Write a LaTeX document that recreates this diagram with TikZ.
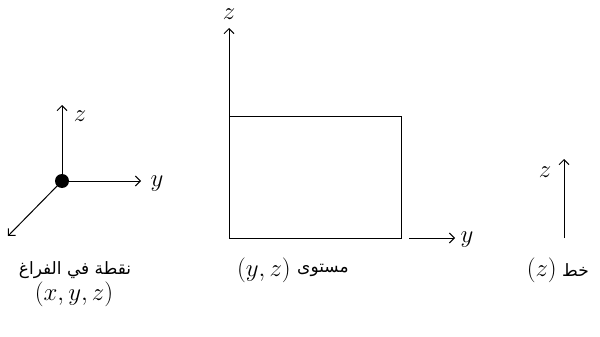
\documentclass[tikz,border=0pt]{standalone}
\usepackage{fontspec}
\usetikzlibrary{arrows.meta}
\newfontfamily\arabicfont[Script=Arabic]{DejaVu Sans}
\TeXXeTstate=1
\begin{document}
\begin{tikzpicture}[x=1pt,y=-1pt,
  ax/.style={line width=1pt,-{Straight Barb[length=5pt,width=10pt,line width=1pt]}},
  edge/.style={line width=1pt},
  lbl/.style={inner sep=0pt,font=\fontsize{23.5}{28}\selectfont},
  ar/.style={inner sep=0pt,font=\fontsize{17}{20}\selectfont\arabicfont}]
\useasboundingbox (0,0) rectangle (600,337);
% left: point in space
\coordinate (o) at (62,181);
\coordinate (oz) at (62,105);
\coordinate (oy) at (141,181);
\coordinate (ox) at (8,236);
\draw[ax] (o) -- (oz);
\draw[ax] (o) -- (oy);
\draw[ax] (o) -- (ox);
\fill (o) circle (7);
\node[lbl] (lz) at (80,116) {$z$};
\node[lbl] (ly) at (157,184) {$y$};
% middle: plane
\coordinate (p0) at (229,238);
\coordinate (pz) at (229,28);
\coordinate (p1) at (401,238);
\coordinate (p2) at (401,116);
\coordinate (p3) at (229,116);
\draw[ax] (p0) -- (pz);
\draw[edge] (p3) -- (p2) -- (p1) -- (p0);
\coordinate (py0) at (409,238);
\coordinate (py1) at (455,238);
\draw[ax] (py0) -- (py1);
\node[lbl] (mz) at (229,14) {$z$};
\node[lbl] (my) at (467,240) {$y$};
% right: line
\coordinate (l0) at (564,238);
\coordinate (l1) at (564,159);
\draw[ax] (l0) -- (l1);
\node[lbl] (rz) at (545,172) {$z$};
% captions
\node[ar] (c1) at (75,270) {\beginR نقطة في الفراغ\endR};
\node[lbl] (c1m) at (74,294) {$(x, y, z)$};
\node[lbl,anchor=east] (c2m) at (291,270) {$(y, z)$};
\node[ar,anchor=west] (c2) at (297,270) {\beginR مستوى\endR};
\node[lbl,anchor=east] (c3m) at (557,270) {$(z)$};
\node[ar,anchor=west] (c3) at (562,270) {\beginR خط\endR};
\end{tikzpicture}
\end{document}
